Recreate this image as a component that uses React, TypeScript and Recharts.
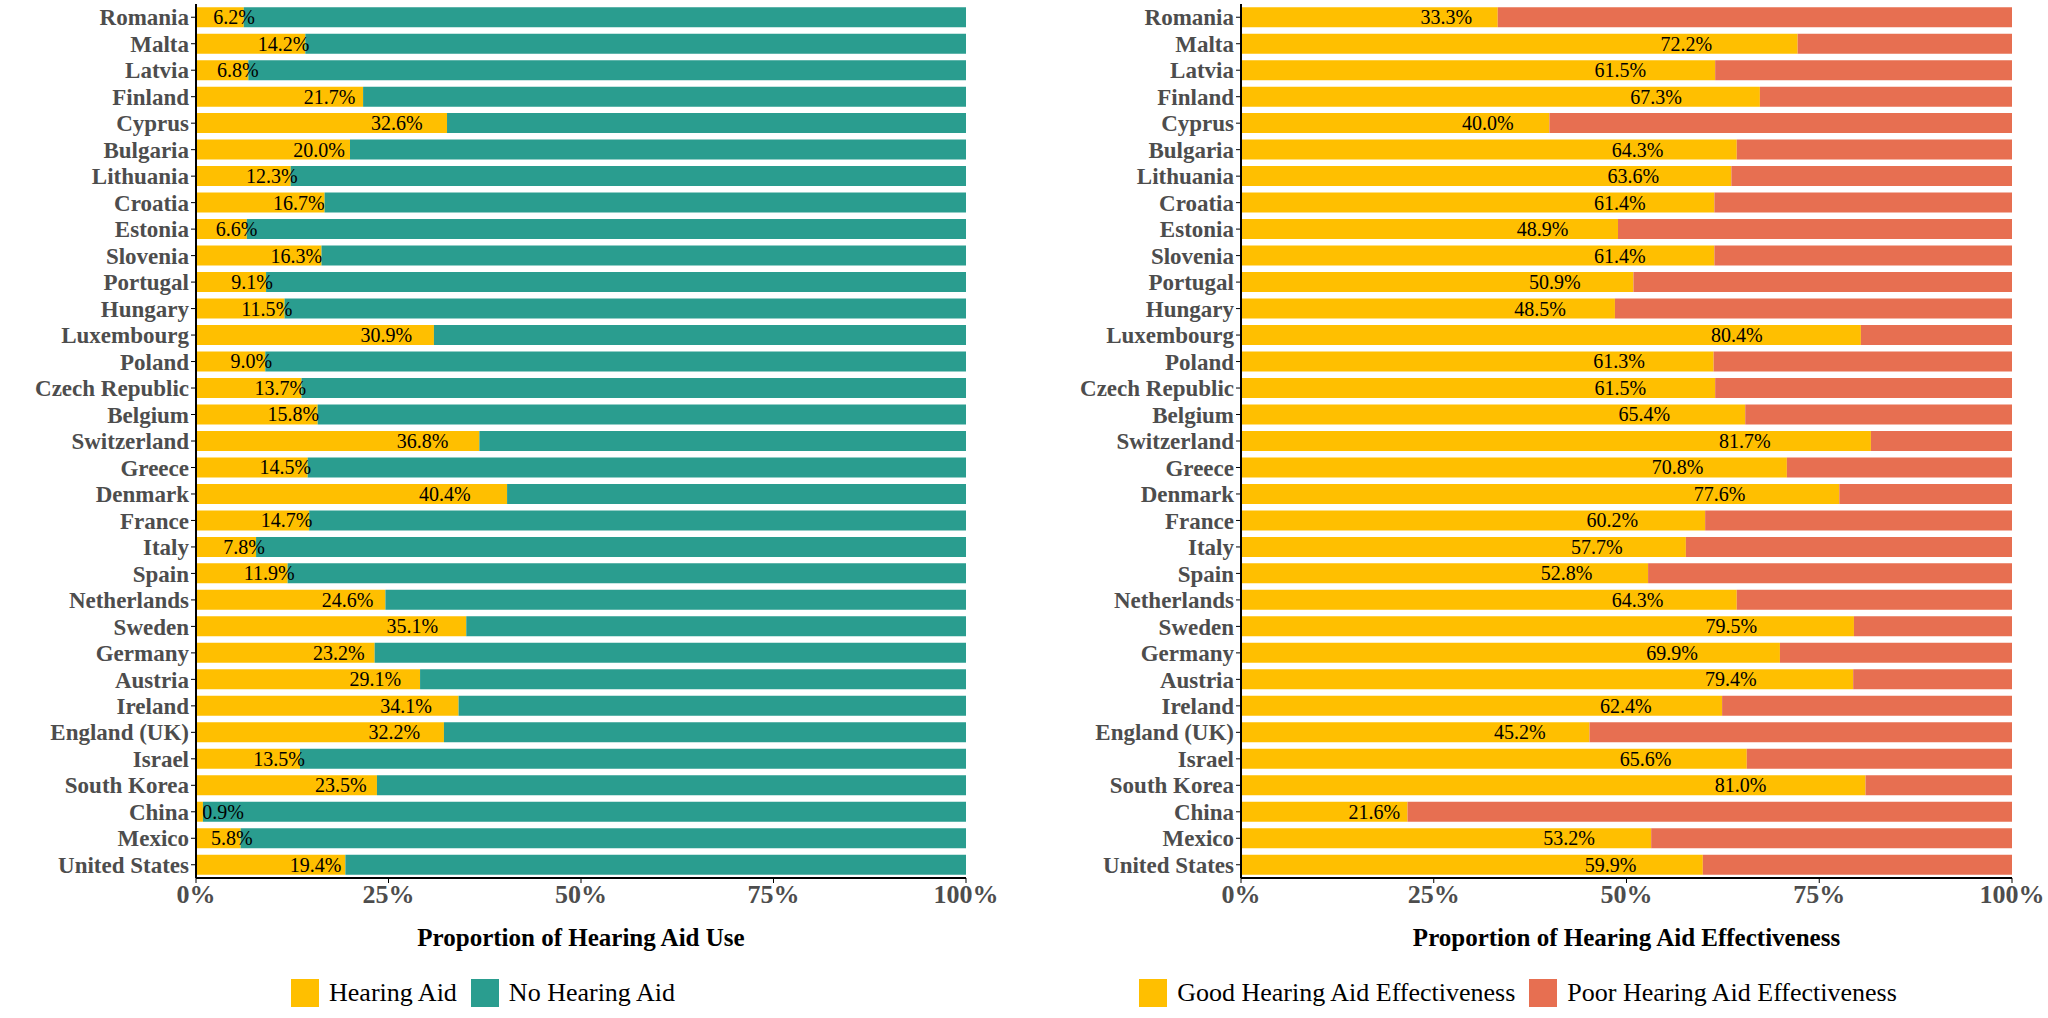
import { Bar, BarChart, Legend, XAxis, YAxis } from "recharts"

const countries = ["Romania","Malta","Latvia","Finland","Cyprus","Bulgaria","Lithuania","Croatia","Estonia","Slovenia","Portugal","Hungary","Luxembourg","Poland","Czech Republic","Belgium","Switzerland","Greece","Denmark","France","Italy","Spain","Netherlands","Sweden","Germany","Austria","Ireland","England (UK)","Israel","South Korea","China","Mexico","United States"]
const hearingAid = [6.2,14.2,6.8,21.7,32.6,20.0,12.3,16.7,6.6,16.3,9.1,11.5,30.9,9.0,13.7,15.8,36.8,14.5,40.4,14.7,7.8,11.9,24.6,35.1,23.2,29.1,34.1,32.2,13.5,23.5,0.9,5.8,19.4]
const goodEffect = [33.3,72.2,61.5,67.3,40.0,64.3,63.6,61.4,48.9,61.4,50.9,48.5,80.4,61.3,61.5,65.4,81.7,70.8,77.6,60.2,57.7,52.8,64.3,79.5,69.9,79.4,62.4,45.2,65.6,81.0,21.6,53.2,59.9]
const xTicks = [0, 25, 50, 75, 100]

const useData = countries.map((c, i) => ({ country: c, a: hearingAid[i], b: +(100 - hearingAid[i]).toFixed(1) }))
const effData = countries.map((c, i) => ({ country: c, a: goodEffect[i], b: +(100 - goodEffect[i]).toFixed(1) }))

const YELLOW = "#FFBF00"
const TEAL = "#2A9D8F"
const SALMON = "#E76F51"
const FONT = "'Liberation Serif', 'Times New Roman', serif"

const PctLabel = (props: any) => {
  const { x, y, width, height, value } = props
  const cx = Math.max(x + width * 0.8, x + 27)
  return (
    <text x={cx} y={y + height / 2} textAnchor="middle" dominantBaseline="central" fontSize={20} fill="#000" fontFamily={FONT}>
      {Number(value).toFixed(1)}%
    </text>
  )
}

function LegendBox({ items }: { items: { name: string; color: string }[] }) {
  return (
    <div style={{ display: "flex", justifyContent: "center", gap: 14, fontFamily: FONT, fontSize: 26 }}>
      {items.map((it) => (
        <div key={it.name} style={{ display: "flex", alignItems: "center", gap: 10 }}>
          <div style={{ width: 28, height: 28, background: it.color }} />
          <span>{it.name}</span>
        </div>
      ))}
    </div>
  )
}

function Panel({ data, yWidth, right, colorB, title, legend }: any) {
  return (
    <BarChart width={1024} height={1018} data={data} layout="vertical" barCategoryGap="12%" margin={{ top: 4, right, left: 0, bottom: 0 }}>
      <XAxis
        type="number"
        domain={[0, 100]}
        ticks={xTicks}
        tickFormatter={(v) => `${v}%`}
        tick={{ fontSize: 26, fontWeight: "bold", fill: "#4d4d4d", fontFamily: FONT }}
        axisLine={{ stroke: "#000", strokeWidth: 2 }}
        tickLine={{ stroke: "#000" }}
        tickSize={5}
        height={100}
        label={{ value: title, position: "insideTop", offset: 50, fontSize: 25, fontWeight: "bold", fill: "#000", fontFamily: FONT }}
      />
      <YAxis
        type="category"
        dataKey="country"
        width={yWidth}
        interval={0}
        tick={{ fontSize: 23, fontWeight: "bold", fill: "#4d4d4d", fontFamily: FONT }}
        axisLine={{ stroke: "#000", strokeWidth: 2 }}
        tickLine={{ stroke: "#000" }}
        tickSize={5}
      />
      <Bar dataKey="a" stackId="s" fill={YELLOW} isAnimationActive={false} label={<PctLabel />} />
      <Bar dataKey="b" stackId="s" fill={colorB} isAnimationActive={false} />
      <Legend verticalAlign="bottom" height={40} content={() => <LegendBox items={legend} />} />
    </BarChart>
  )
}

export default function App() {
  return (
    <div style={{ position: "absolute", left: 0, top: 0, width: 2048, height: 1018, background: "#fff", display: "flex" }}>
      <Panel data={useData} yWidth={196} right={58} colorB={TEAL} title="Proportion of Hearing Aid Use"
        legend={[{ name: "Hearing Aid", color: YELLOW }, { name: "No Hearing Aid", color: TEAL }]} />
      <Panel data={effData} yWidth={217} right={36} colorB={SALMON} title="Proportion of Hearing Aid Effectiveness"
        legend={[{ name: "Good Hearing Aid Effectiveness", color: YELLOW }, { name: "Poor Hearing Aid Effectiveness", color: SALMON }]} />
    </div>
  )
}
